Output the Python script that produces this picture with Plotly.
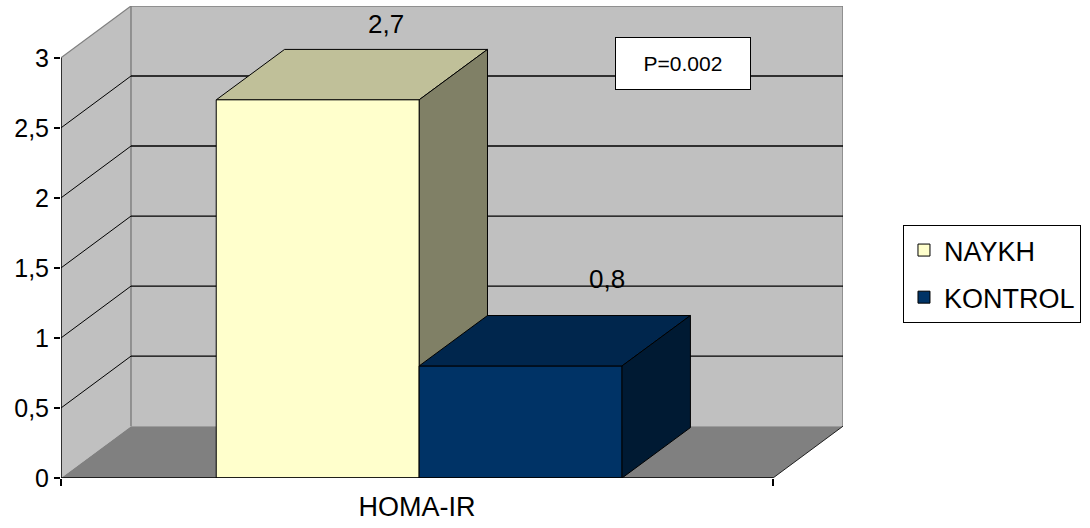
import plotly.graph_objects as go

# ---- data ----
categories = ["HOMA-IR"]
series_names = ["NAYKH", "KONTROL"]
series_values = [2.7, 0.8]
y_ticks = [0, 0.5, 1, 1.5, 2, 2.5, 3]
p_text = "P=0.002"

# ---- styling ----
front_colors = ["#ffffcc", "#003366"]
top_colors = ["#c0c099", "#00264d"]
side_colors = ["#808066", "#001a33"]
WALL = "#c0c0c0"
FLOOR = "#808080"
EDGE = "#808080"
FONT = "Liberation Sans"

BAR_W = 0.285                 # width of one bar in category units
BAR_CENTER = 0.003            # small shift of the bar pair inside the category
WALL_DX, WALL_DY = 0.0983, 0.37   # depth offset of the back wall
BAR_DX, BAR_DY = 0.096, 0.36      # depth offset of the bar backs
X_LO, X_HI = -0.5, 0.5
Y_MAX = y_ticks[-1]
label_shift = [(0, 8), (18, 20)]  # pixel nudges for the value labels


def path(pts):
    return "M " + " L ".join(f"{x},{y}" for x, y in pts) + " Z"


def line(x0, y0, x1, y1, color="black", width=1.0, layer="below"):
    return dict(type="line", xref="x", yref="y", x0=x0, y0=y0, x1=x1, y1=y1,
                line=dict(color=color, width=width), layer=layer)


def poly(pts, fill, layer="below", lw=1.0, lc="black"):
    return dict(type="path", xref="x", yref="y", path=path(pts),
                fillcolor=fill, line=dict(color=lc, width=lw), layer=layer)


shapes = []
# back wall, side wall and floor
shapes.append(poly([(X_LO + WALL_DX, WALL_DY), (X_HI + WALL_DX, WALL_DY),
                    (X_HI + WALL_DX, Y_MAX + WALL_DY), (X_LO + WALL_DX, Y_MAX + WALL_DY)],
                   WALL, lw=0))
shapes.append(poly([(X_LO, 0), (X_LO, Y_MAX), (X_LO + WALL_DX, Y_MAX + WALL_DY),
                    (X_LO + WALL_DX, WALL_DY)], WALL, lw=0))
shapes.append(poly([(X_LO, 0), (X_HI, 0), (X_HI + WALL_DX, WALL_DY),
                    (X_LO + WALL_DX, WALL_DY)], FLOOR, lw=0))
# wall edges
shapes.append(line(X_LO + WALL_DX, WALL_DY, X_LO + WALL_DX, Y_MAX + WALL_DY, EDGE, 1.5))
shapes.append(line(X_LO + WALL_DX, Y_MAX + WALL_DY, X_HI + WALL_DX, Y_MAX + WALL_DY, EDGE, 1.5))
shapes.append(line(X_HI + WALL_DX, WALL_DY, X_HI + WALL_DX, Y_MAX + WALL_DY, EDGE, 1.5))
shapes.append(line(X_LO, Y_MAX, X_LO + WALL_DX, Y_MAX + WALL_DY, EDGE, 1.2))
shapes.append(line(X_HI, 0, X_HI + WALL_DX, WALL_DY, "#202020", 1.0))
# gridlines on the side and back walls
for t in y_ticks[1:-1]:
    shapes.append(line(X_LO, t, X_LO + WALL_DX, t + WALL_DY, "black", 1.0))
    shapes.append(line(X_LO + WALL_DX, t + WALL_DY, X_HI + WALL_DX, t + WALL_DY, "black", 1.4))

# top and side faces of each bar
bars = []
annotations = []
for i, (name, v) in enumerate(zip(series_names, series_values)):
    left = BAR_CENTER - BAR_W + i * BAR_W
    right = left + BAR_W
    layer = "below" if i == 0 else "above"
    shapes.append(poly([(left, v), (right, v), (right + BAR_DX, v + BAR_DY),
                        (left + BAR_DX, v + BAR_DY)], top_colors[i], layer=layer))
    shapes.append(poly([(right, 0), (right, v), (right + BAR_DX, v + BAR_DY),
                        (right + BAR_DX, BAR_DY)], side_colors[i], layer=layer))
    bars.append(go.Bar(
        x=[0], y=[v], width=BAR_W, offset=left, name=name, legendgroup=name,
        marker=dict(color=front_colors[i], line=dict(color="black", width=1)),
        hoverinfo="skip",
    ))
    dx, dy = label_shift[i]
    annotations.append(dict(
        x=(left + right) / 2 + BAR_DX, y=v + BAR_DY, xref="x", yref="y",
        text=f"{v:.1f}".replace(".", ","), showarrow=False,
        xanchor="center", yanchor="bottom", xshift=dx, yshift=dy,
        font=dict(family=FONT, size=26, color="black"),
    ))

# axis lines
shapes.append(line(X_LO, 0, X_LO, Y_MAX, "black", 1.5, "above"))
shapes.append(line(X_LO, 0, X_HI, 0, "black", 1.5, "above"))

annotations.append(dict(
    x=0.3736, y=2.96, xref="x", yref="y", text=p_text, showarrow=False,
    width=134, height=51, align="center", valign="middle",
    bgcolor="white", bordercolor="black", borderwidth=1, borderpad=0,
    font=dict(family=FONT, size=21, color="black"),
))

fig = go.Figure(bars)
fig.update_layout(
    width=1090, height=528, autosize=False,
    margin=dict(l=61, r=247, t=6, b=50, pad=0),
    paper_bgcolor="white", plot_bgcolor="white",
    barmode="overlay", separators=",.",
    shapes=shapes, annotations=annotations,
    showlegend=True,
    legend=dict(
        x=1.0767, y=0.536, xanchor="left", yanchor="top",
        bgcolor="white", bordercolor="black", borderwidth=1,
        font=dict(family=FONT, size=27, color="black"),
        tracegroupgap=9, traceorder="grouped",
    ),
    xaxis=dict(
        range=[X_LO, X_HI + WALL_DX], showgrid=False, zeroline=False, showline=False,
        tickvals=[0], ticktext=categories, ticks="", ticklabelstandoff=10,
        tickfont=dict(family=FONT, size=27, color="black"),
        minor=dict(tickvals=[X_LO, X_HI], ticks="outside", ticklen=7,
                   tickwidth=1.5, tickcolor="black", showgrid=False),
        fixedrange=True,
    ),
    yaxis=dict(
        range=[0, Y_MAX + WALL_DY], showgrid=False, zeroline=False, showline=False,
        tickvals=y_ticks, ticks="outside", ticklen=6, tickwidth=1.5, tickcolor="black",
        tickfont=dict(family=FONT, size=25, color="black"),
        fixedrange=True,
    ),
)

fig.write_html("out.html")
